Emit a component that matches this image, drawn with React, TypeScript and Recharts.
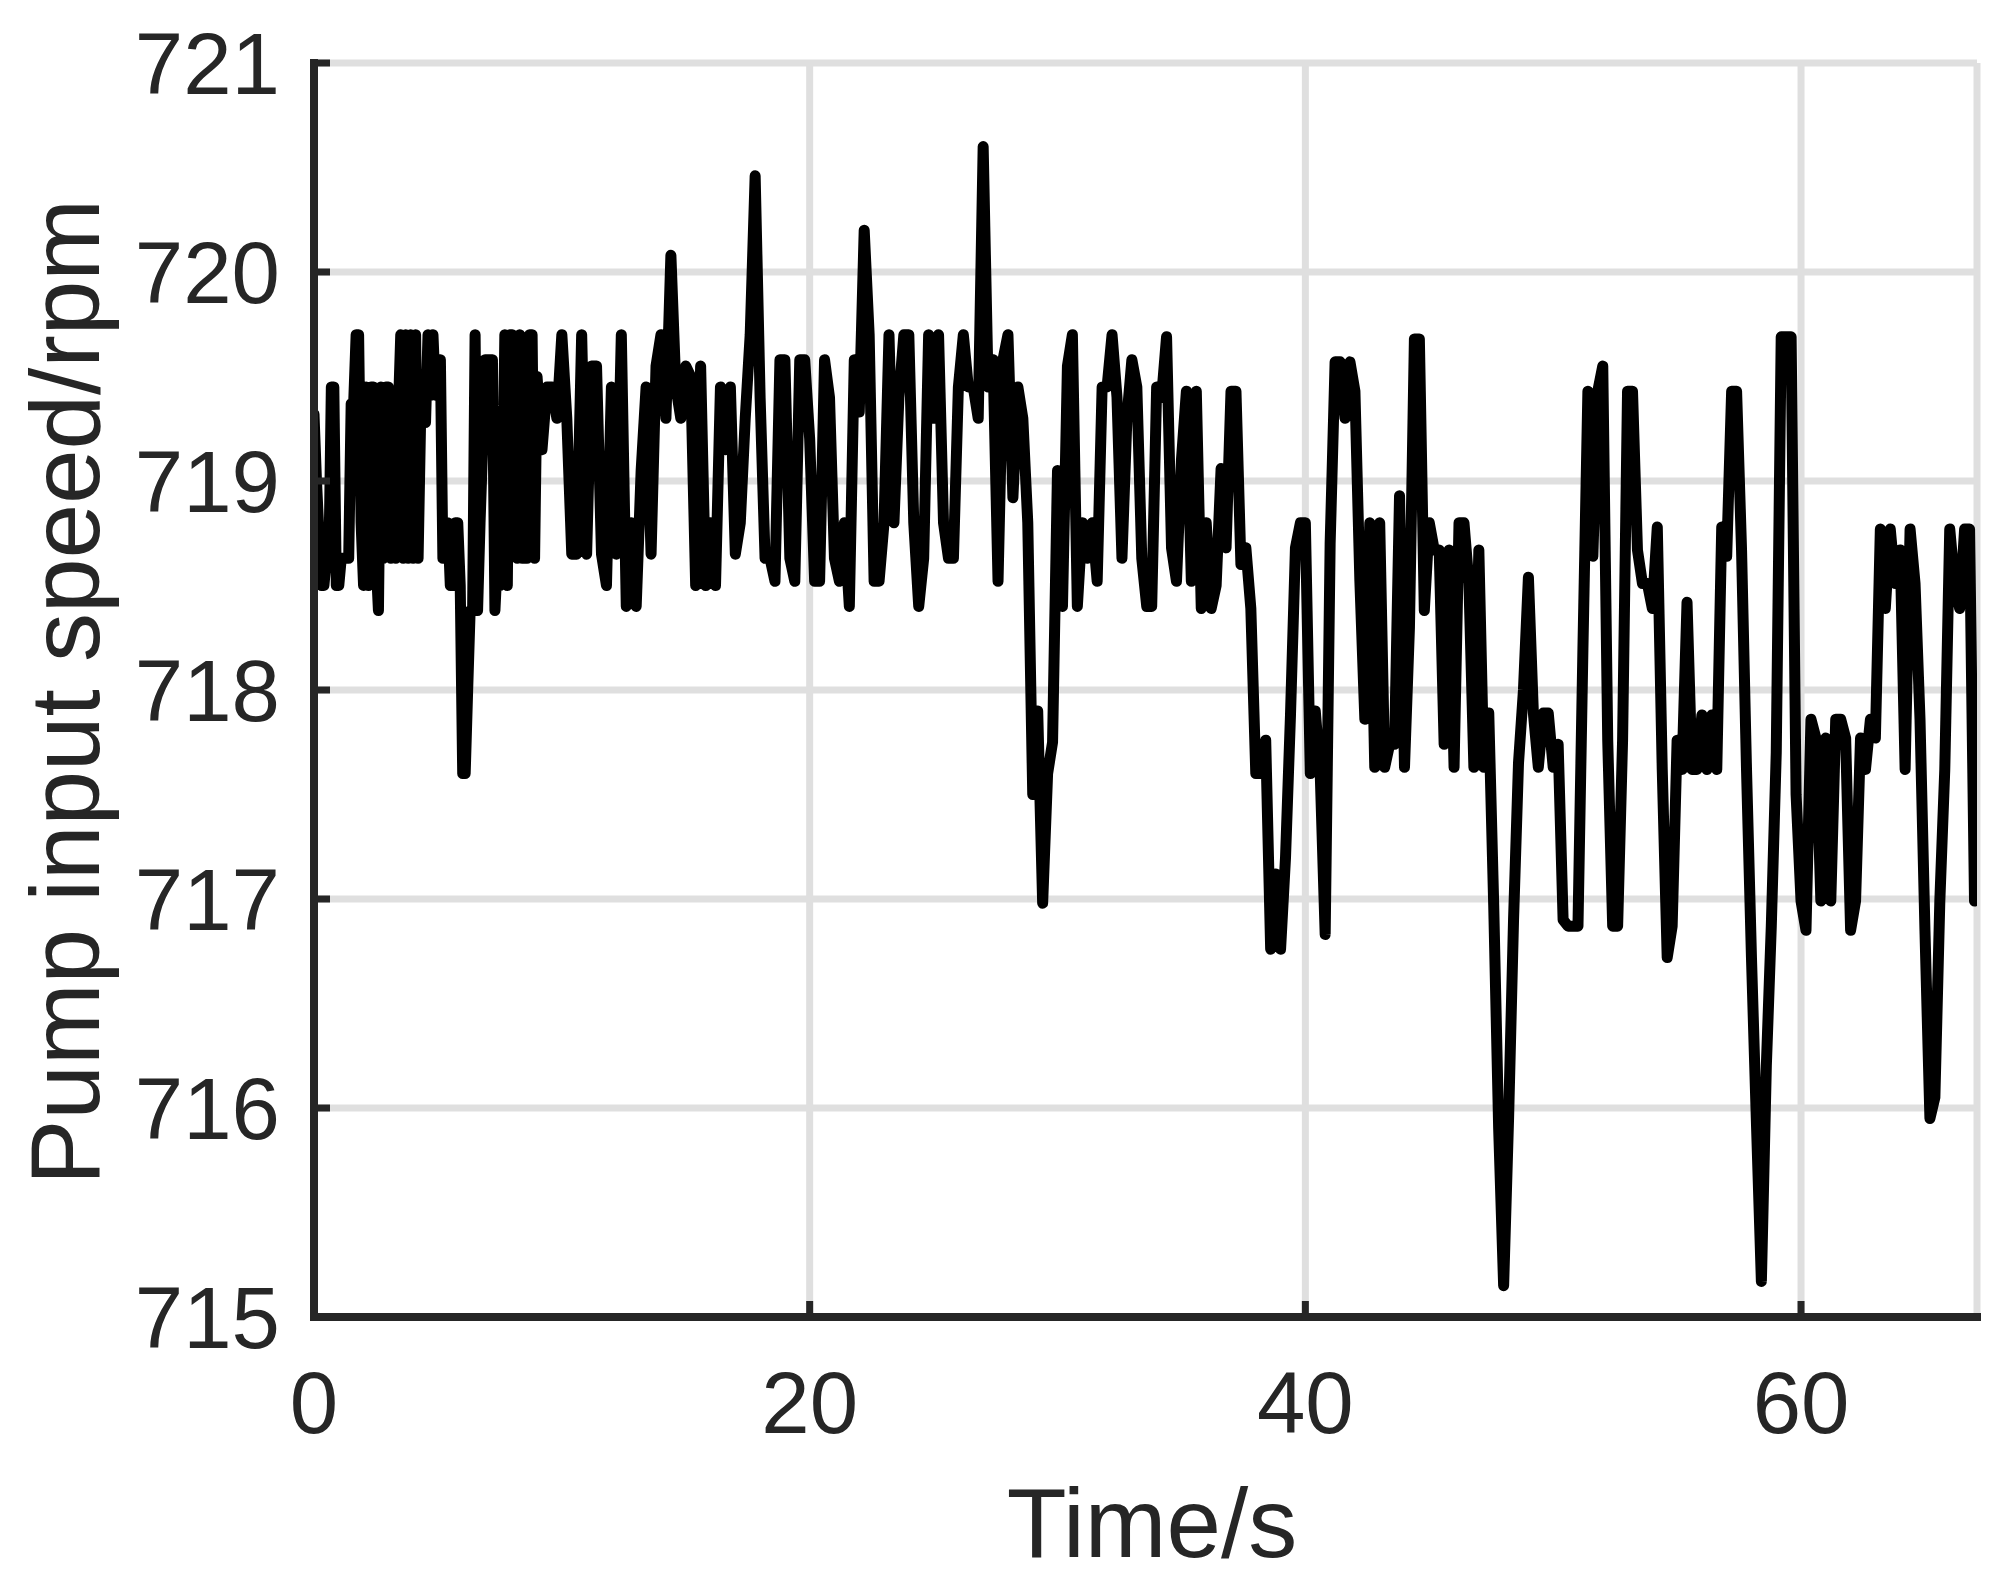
import React from "react";
import {
  LineChart,
  Line,
  XAxis,
  YAxis,
  CartesianGrid,
} from "recharts";

// first block sampled every 0.1 s, the rest every 0.2 s
const speed0 = [ // t = 0.0 .. 8.9, dt 0.1
  719.32, 719.0, 718.75, 718.5, 718.5, 718.63, 718.6, 719.45, 719.45, 718.5,
  718.5, 718.63, 718.63, 718.63, 718.63, 719.37, 719.37, 719.7, 719.7, 718.8,
  718.5, 719.45, 718.5, 719.45, 719.45, 718.63, 718.38, 719.45, 718.63, 719.45,
  719.45, 718.63, 719.3, 718.63, 719.32, 719.7, 718.63, 719.7, 718.63, 719.7,
  718.63, 719.7, 718.63, 719.28, 719.28, 719.28, 719.7, 719.41, 719.7, 719.41,
  719.58, 719.58, 718.63, 718.8, 718.8, 718.5, 718.5, 718.8, 718.8, 718.5,
  717.6, 717.6, 718.0, 718.38, 718.38, 719.7, 718.38, 718.8, 719.15, 719.58,
  719.58, 719.58, 719.58, 718.38, 718.63, 718.5, 718.8, 719.7, 718.5, 719.7,
  719.7, 719.41, 718.63, 719.7, 718.63, 718.63, 718.63, 719.7, 719.7, 718.63,
];
const speed9 = [ // t = 9.0 .. 17.0
  719.5, 719.15, 719.45, 719.45, 719.3, 719.7, 719.3, 718.65, 718.65, 719.7,
  718.65, 719.55, 719.55, 718.65, 718.5, 719.45, 718.65, 719.7, 718.4, 718.8,
  718.4, 719.05, 719.45, 718.65, 719.55, 719.7, 719.3, 720.08, 719.45, 719.3,
  719.55, 719.5, 718.5, 719.55, 718.5, 718.8, 718.5, 719.45, 719.15, 719.45,
  718.65,
];
const speed17 = [ // t = 17.2 .. 25.6
  718.8, 719.3, 719.7, 720.46, 719.4, 718.63, 718.63, 718.52, 719.58, 719.58,
  718.63, 718.52, 719.58, 719.58, 719.2, 718.52, 718.52, 719.58, 719.4, 718.63,
  718.52, 718.8, 718.4, 719.58, 719.33, 720.2, 719.7, 718.52, 718.52, 718.8,
  719.7, 718.8, 719.4, 719.7, 719.7, 718.8, 718.4, 718.63, 719.7, 719.3,
  719.7, 718.8, 718.63,
];
const speed26 = [ // t = 25.8 .. 34.0
  718.63, 719.45, 719.7, 719.45, 719.45, 719.3, 720.6, 719.45, 719.58, 718.52,
  719.58, 719.7, 718.92, 719.45, 719.3, 718.8, 717.5, 717.9, 716.98, 717.6,
  717.75, 719.05, 718.4, 719.55, 719.7, 718.4, 718.8, 718.63, 718.8, 718.52,
  719.45, 719.45, 719.7, 719.4, 718.63, 719.3, 719.58, 719.45, 718.63, 718.4,
  718.4, 719.45,
];
const speed34 = [ // t = 34.2 .. 42.4
  719.4, 719.69, 718.68, 718.52, 719.1, 719.43, 718.52, 719.43, 718.39, 718.8,
  718.39, 718.5, 719.06, 718.68, 719.43, 719.43, 718.6, 718.68, 718.39, 717.6,
  717.6, 717.76, 716.76, 717.12, 716.76, 717.2, 717.88, 718.68, 718.8, 718.8,
  717.6, 717.9, 717.6, 716.83, 718.7, 719.57, 719.57, 719.3, 719.57, 719.43,
  718.52, 717.86,
];
const speed43 = [ // t = 42.6 .. 51.0
  718.8, 717.63, 718.8, 717.63, 717.74, 717.74, 718.93, 717.63, 718.3, 719.68,
  719.68, 718.38, 718.8, 718.67, 718.67, 717.74, 718.67, 717.63, 718.8, 718.8,
  718.51, 717.63, 718.67, 717.63, 717.89, 716.97, 715.9, 715.15, 715.95, 716.9,
  717.65, 718.0, 718.54, 717.89, 717.63, 717.89, 717.89, 717.63, 717.74, 716.9,
  716.87, 716.87, 716.87,
];
const speed51 = [ // t = 51.2 .. 59.4
  718.2, 719.43, 718.64, 719.43, 719.55, 717.76, 716.87, 716.87, 717.76, 719.43,
  719.43, 718.67, 718.51, 718.51, 718.39, 718.78, 717.62, 716.72, 716.87, 717.76,
  717.62, 718.42, 717.62, 717.62, 717.88, 717.62, 717.88, 717.62, 718.78, 718.64,
  719.43, 719.43, 718.67, 717.62, 716.72, 715.93, 715.17, 716.2, 716.87, 717.7,
  719.69, 719.69,
];
const speed60 = [ // t = 59.6 .. 67.0
  719.69, 717.5, 716.99, 716.85, 717.86, 717.77, 716.99, 717.77, 716.99, 717.86,
  717.86, 717.77, 716.85, 716.99, 717.77, 717.62, 717.86, 717.77, 718.77, 718.39,
  718.77, 718.51, 718.67, 717.62, 718.77, 718.51, 717.86, 716.85, 715.95, 716.05,
  716.99, 717.62, 718.77, 718.51, 718.39, 718.77, 718.77, 716.99,
];

const blockStarts = [0, 9.0, 17.2, 25.8, 34.2, 42.6, 51.2, 59.6];
const blockDt = [0.1, 0.2, 0.2, 0.2, 0.2, 0.2, 0.2, 0.2];
const blocks = [speed0, speed9, speed17, speed26, speed34, speed43, speed51, speed60];

const xTicks = [0, 20, 40, 60];
const yTicks = [715, 716, 717, 718, 719, 720, 721];

const data: { t: number; v: number }[] = [];
blocks.forEach((vals, b) => {
  vals.forEach((v, i) => {
    data.push({ t: +(blockStarts[b] + i * blockDt[b]).toFixed(2), v });
  });
});

const FONT = "'Liberation Sans', Arial, Helvetica, sans-serif";
const AXIS = "#262626";
const TICK_LEN = 16;
const PLOT_LEFT = 314;
const PLOT_RIGHT = 1977;
const PLOT_TOP = 63;
const PLOT_BOTTOM = 1317;
const axisLineStyle = { stroke: AXIS, strokeWidth: 8, strokeLinecap: "square" as const };

// tick labels plus MATLAB-style inward tick marks
const LeftTick = (p: any) => (
  <g>
    <line x1={PLOT_LEFT} x2={PLOT_LEFT + TICK_LEN} y1={p.y} y2={p.y} stroke={AXIS} strokeWidth={7} />
    <text x={p.x} y={p.y} dy="0.355em" textAnchor="end" fontSize={87} fontFamily={FONT} fill={AXIS}>
      {p.payload.value}
    </text>
  </g>
);

const BottomTick = (p: any) => (
  <g>
    <line x1={p.x} x2={p.x} y1={PLOT_BOTTOM} y2={PLOT_BOTTOM - TICK_LEN} stroke={AXIS} strokeWidth={7} />
    <text x={p.x} y={p.y} dy="0.71em" textAnchor="middle" fontSize={87} fontFamily={FONT} fill={AXIS}>
      {p.payload.value}
    </text>
  </g>
);

const RightTick = (p: any) => (
  <line x1={PLOT_RIGHT} x2={PLOT_RIGHT - TICK_LEN} y1={p.y} y2={p.y} stroke={AXIS} strokeWidth={7} />
);

const TopTick = (p: any) => (
  <line x1={p.x} x2={p.x} y1={PLOT_TOP} y2={PLOT_TOP + TICK_LEN} stroke={AXIS} strokeWidth={7} />
);

const YTitle = () => (
  <text
    x={99}
    y={692}
    transform="rotate(-90, 99, 692)"
    textAnchor="middle"
    fontSize={98}
    fontFamily={FONT}
    fill={AXIS}
  >
    Pump input speed/rpm
  </text>
);

const XTitle = () => (
  <text x={1152} y={1557} textAnchor="middle" fontSize={98} fontFamily={FONT} fill={AXIS}>
    Time/s
  </text>
);

const App = () => {
  return (
    <div style={{ position: "absolute", left: 0, top: 0, width: 2013, height: 1593, background: "#fff" }}>
      <LineChart
        width={2013}
        height={1593}
        data={data}
        margin={{ top: PLOT_TOP, right: 2013 - PLOT_RIGHT, bottom: 0, left: 0 }}
      >
        <CartesianGrid stroke="#dfdfdf" strokeWidth={7} />
        <XAxis
          dataKey="t"
          type="number"
          domain={[0, 67.1]}
          ticks={xTicks}
          allowDataOverflow
          height={1593 - PLOT_BOTTOM}
          tickSize={0}
          tickMargin={54}
          axisLine={axisLineStyle}
          tickLine={false}
          tick={BottomTick}
          label={{ content: XTitle }}
        />
        <XAxis
          xAxisId="top"
          orientation="top"
          type="number"
          domain={[0, 67.1]}
          ticks={xTicks}
          allowDataOverflow
          height={0}
          axisLine={axisLineStyle}
          tickLine={false}
          tick={TopTick}
        />
        <YAxis
          type="number"
          domain={[715, 721]}
          ticks={yTicks}
          allowDataOverflow
          width={PLOT_LEFT}
          tickSize={0}
          tickMargin={34}
          axisLine={axisLineStyle}
          tickLine={false}
          tick={LeftTick}
          label={{ content: YTitle }}
        />
        <YAxis
          yAxisId="right"
          orientation="right"
          type="number"
          domain={[715, 721]}
          ticks={yTicks}
          allowDataOverflow
          width={0}
          axisLine={axisLineStyle}
          tickLine={false}
          tick={RightTick}
        />
        <Line
          type="linear"
          dataKey="v"
          stroke="#000"
          strokeWidth={11}
          strokeLinejoin="round"
          strokeLinecap="round"
          dot={false}
          activeDot={false}
          isAnimationActive={false}
        />
      </LineChart>
    </div>
  );
};

export default App;
